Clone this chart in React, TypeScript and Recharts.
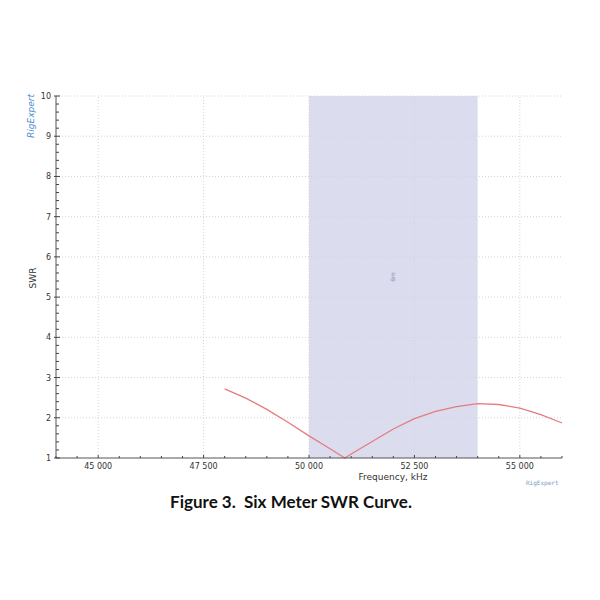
import {
  LineChart,
  Line,
  XAxis,
  YAxis,
  ReferenceArea,
  ReferenceLine,
  Label,
} from "recharts";

const freqs = [48000, 48500, 49000, 49500, 50000, 50500, 50850, 51000, 51500, 52000, 52500, 53000, 53500, 54000, 54500, 55000, 55500, 56000];
const swr = [2.72, 2.49, 2.21, 1.89, 1.55, 1.23, 1.0, 1.1, 1.41, 1.72, 1.98, 2.16, 2.28, 2.35, 2.33, 2.24, 2.08, 1.87];

const xMajor = [45000, 47500, 50000, 52500, 55000];
const xMinor = [44000, 44500, 45000, 45500, 46000, 46500, 47000, 47500, 48000, 48500, 49000, 49500, 50000, 50500, 51000, 51500, 52000, 52500, 53000, 53500, 54000, 54500, 55000, 55500, 56000];
const yMajor = [1, 2, 3, 4, 5, 6, 7, 8, 9, 10];
const yMinor = [1, 1.2, 1.4, 1.6, 1.8, 2, 2.2, 2.4, 2.6, 2.8, 3, 3.2, 3.4, 3.6, 3.8, 4, 4.2, 4.4, 4.6, 4.8, 5, 5.2, 5.4, 5.6, 5.8, 6, 6.2, 6.4, 6.6, 6.8, 7, 7.2, 7.4, 7.6, 7.8, 8, 8.2, 8.4, 8.6, 8.8, 9, 9.2, 9.4, 9.6, 9.8, 10];

const band = { from: 50000, to: 54000, label: "6m" };

const data = freqs.map((f, i) => ({ freq: f, swr: swr[i] }));

const tickFont = "Tahoma, 'DejaVu Sans', sans-serif";
const fmtFreq = (v: number) => {
  const s = String(v);
  return s.slice(0, s.length - 3) + " " + s.slice(-3);
};

function XTick(props: any) {
  const { x, y, payload } = props;
  const major = xMajor.includes(payload.value);
  return (
    <g>
      <line x1={x} x2={x} y1={y - (major ? 3 : 2)} y2={y} stroke="#444" />
      {major && (
        <text x={x} y={y + 11} textAnchor="middle" fontSize={8} fill="#333" fontFamily={tickFont}>
          {fmtFreq(payload.value)}
        </text>
      )}
    </g>
  );
}

function YTick(props: any) {
  const { x, y, payload } = props;
  const major = Number.isInteger(payload.value);
  return (
    <g>
      <line x1={major ? x - 2 : x} x2={x + (major ? 4 : 3)} y1={y} y2={y} stroke="#444" />
      {major && (
        <text x={x - 5} y={y + 3} textAnchor="end" fontSize={8} fill="#333" fontFamily={tickFont}>
          {payload.value}
        </text>
      )}
    </g>
  );
}

export default function App() {
  return (
    <div style={{ position: "absolute", left: 0, top: 0, width: 600, height: 600, background: "#fff" }}>
      <LineChart
        width={600}
        height={490}
        data={data}
        margin={{ top: 96, right: 38, left: 36, bottom: 12 }}
      >
        <XAxis
          dataKey="freq"
          type="number"
          domain={[44000, 56000]}
          ticks={xMinor}
          interval={0}
          height={20}
          tickSize={0}
          tickMargin={0}
          tickLine={false}
          tick={<XTick />}
          axisLine={{ stroke: "#555" }}
        >
          <Label
            value="Frequency, kHz"
            position="bottom"
            offset={-4}
            dx={84}
            style={{ fontSize: 9, fill: "#333", fontFamily: tickFont }}
          />
        </XAxis>
        <YAxis
          type="number"
          domain={[1, 10]}
          ticks={yMinor}
          interval={0}
          width={20}
          tickSize={0}
          tickMargin={0}
          tickLine={false}
          tick={<YTick />}
          axisLine={{ stroke: "#555" }}
        />
        <ReferenceArea x1={band.from} x2={band.to} y1={1} y2={10} fill="#dcdcef" fillOpacity={1} stroke="none">
          <Label
            value={band.label}
            position="center"
            angle={-90}
            style={{ fontSize: 6, fill: "#8a8ab8", fontFamily: tickFont }}
          />
        </ReferenceArea>
        {xMajor.map((v) => (
          <ReferenceLine key={"gx" + v} x={v} stroke="#d4d4d8" strokeDasharray="1 2" />
        ))}
        {yMajor.slice(1).map((v) => (
          <ReferenceLine key={"gy" + v} y={v} stroke="#d4d4d8" strokeDasharray="1 2" />
        ))}
        <Line
          dataKey="swr"
          type="linear"
          stroke="#e47c80"
          strokeWidth={1.3}
          dot={false}
          isAnimationActive={false}
        />
      </LineChart>
      <div
        style={{
          position: "absolute",
          left: 33,
          top: 278,
          transform: "translate(-50%, -50%) rotate(-90deg)",
          fontSize: 9,
          color: "#333",
          fontFamily: tickFont,
        }}
      >
        SWR
      </div>
      <div
        style={{
          position: "absolute",
          left: 31,
          top: 116,
          transform: "translate(-50%, -50%) rotate(-90deg)",
          fontSize: 9,
          color: "#4d8ccc",
          fontFamily: "'DejaVu Sans', sans-serif",
          fontStyle: "italic",
          whiteSpace: "nowrap",
        }}
      >
        RigExpert
      </div>
      <div
        style={{
          position: "absolute",
          left: 526,
          top: 479,
          fontSize: 6,
          color: "#7a9cc8",
          fontFamily: "'DejaVu Sans Mono', monospace",
        }}
      >
        RigExpert
      </div>
      <div
        style={{
          position: "absolute",
          left: 0,
          width: 582,
          top: 491,
          textAlign: "center",
          fontSize: 17,
          fontWeight: "bold",
          color: "#111",
          fontFamily: "Lato, sans-serif",
          whiteSpace: "pre",
        }}
      >
        {"Figure 3.  Six Meter SWR Curve."}
      </div>
    </div>
  );
}
